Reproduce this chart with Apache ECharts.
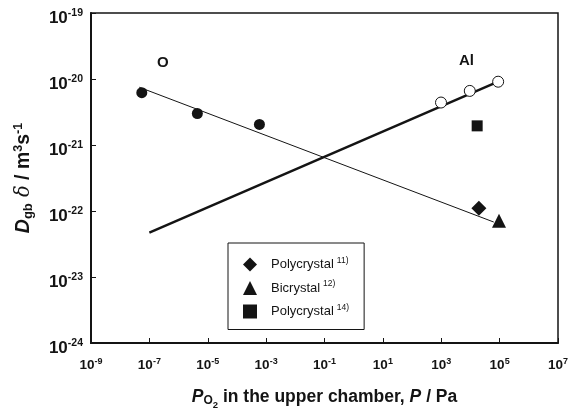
<!DOCTYPE html>
<html><head><meta charset="utf-8">
<script src="https://cdn.jsdelivr.net/npm/echarts@6/dist/echarts.min.js"></script>
<style>html,body{margin:0;padding:0;background:#fff}#c{width:570px;height:412px}</style>
</head><body><div id="c"></div>
<script>
// Tick exponents
const xTickExps = [-9, -7, -5, -3, -1, 1, 3, 5, 7];
const yTickExps = [-24, -23, -22, -21, -20, -19];
// O diffusion (filled circles)
const oP = [5.5e-8, 4.4e-6, 5.9e-4];
const oD = [6.2e-21, 3.0e-21, 2.05e-21];
// O fit line
const oFitP = [4.5e-8, 6.3e4];
const oFitD = [7.5e-21, 6.8e-23];
// Al diffusion (open circles)
const alP = [9.8e2, 9.5e3, 8.9e4];
const alD = [4.4e-21, 6.6e-21, 9.1e-21];
// Al fit line
const alFitP = [1.0e-7, 8.9e4];
const alFitD = [4.7e-23, 9.1e-21];
// Literature points
const polyP11 = [1.95e4]; const polyD11 = [1.1e-22];
const biP12 = [9.5e4];    const biD12 = [7.1e-23];
const polyP14 = [1.7e4];  const polyD14 = [1.95e-21];
const legendNames = ['Polycrystal', 'Bicrystal', 'Polycrystal'];
const legendRefs = ['11)', '12)', '14)'];

const X0 = xTickExps[0];
const lx = p => Math.log10(p) - X0;
const ly = d => Math.log10(d);
const pts = (P, D) => P.map((p, i) => [lx(p), ly(D[i])]);
const seriesNames = legendNames.map((n, i) => n + ' ' + legendRefs[i]);
const FONT = 'Liberation Sans, Arial, Helvetica, sans-serif';
const INK = '#141414';

const chart = echarts.init(document.getElementById('c'));
chart.setOption({
  animation: false,
  grid: { left: 91, top: 13, right: 12, bottom: 69, containLabel: false, outerBoundsMode: 'none', show: true, borderColor: INK, borderWidth: 1.5, backgroundColor: 'transparent' },
  xAxis: {
    type: 'value', min: 0, max: xTickExps[xTickExps.length - 1] - X0, interval: 2,
    axisLine: { show: true, lineStyle: { color: INK, width: 2 } },
    axisTick: { show: true, inside: true, length: 5, lineStyle: { color: INK, width: 1 } },
    splitLine: { show: false },
    axisLabel: {
      margin: 14, formatter: v => '{b|10}{s|' + (v + X0) + '}',
      rich: {
        b: { fontSize: 13.5, fontWeight: 'bold', color: INK, fontFamily: FONT },
        s: { fontSize: 9, fontWeight: 'bold', color: INK, fontFamily: FONT, padding: [0, 0, 8, 0] }
      }
    },
    name: '{p|P}{o|O}{two|2}{t| in the upper chamber, }{p|P}{t| / Pa}',
    nameLocation: 'middle', nameGap: 41,
    nameTextStyle: {
      rich: {
        p: { fontSize: 17.5, fontWeight: 'bold', fontStyle: 'italic', color: INK, fontFamily: FONT },
        o: { fontSize: 12, fontWeight: 'bold', color: INK, fontFamily: FONT, padding: [8, 0, 0, 0] },
        two: { fontSize: 9.5, fontWeight: 'bold', color: INK, fontFamily: FONT, padding: [16, 0, 0, 0] },
        t: { fontSize: 17.5, fontWeight: 'bold', color: INK, fontFamily: FONT }
      }
    }
  },
  yAxis: {
    type: 'value', min: yTickExps[0], max: yTickExps[yTickExps.length - 1], interval: 1,
    axisLine: { show: true, lineStyle: { color: INK, width: 2 } },
    axisTick: { show: true, inside: true, length: 5, lineStyle: { color: INK, width: 1 } },
    splitLine: { show: false },
    axisLabel: {
      margin: 8, padding: [10, 0, 0, 0], formatter: v => '{b|10}{s|' + v + '}',
      rich: {
        b: { fontSize: 17, fontWeight: 'bold', color: INK, fontFamily: FONT },
        s: { fontSize: 10.5, fontWeight: 'bold', color: INK, fontFamily: FONT, padding: [0, 0, 10, 0] }
      }
    },
    name: '{d|D}{sub|gb}{del| δ}{t| / m}{sup|3}{t|s}{sup|-1}',
    nameLocation: 'middle', nameGap: 56, nameRotate: 90,
    nameTextStyle: {
      rich: {
        d: { fontSize: 19.5, fontWeight: 'bold', fontStyle: 'italic', color: INK, fontFamily: FONT },
        sub: { fontSize: 13, fontWeight: 'bold', color: INK, fontFamily: FONT, padding: [9, 0, 0, 0] },
        del: { fontSize: 19.5, fontStyle: 'italic', color: INK, fontFamily: 'DejaVu Serif, serif' },
        t: { fontSize: 19.5, fontWeight: 'bold', color: INK, fontFamily: FONT },
        sup: { fontSize: 12.5, fontWeight: 'bold', color: INK, fontFamily: FONT, padding: [0, 0, 10, 0] }
      }
    }
  },
  legend: {
    data: seriesNames,
    orient: 'vertical', left: 228, top: 243,
    padding: [13, 15, 11, 15], itemGap: 8, itemWidth: 14, itemHeight: 14,
    backgroundColor: '#fff', borderColor: INK, borderWidth: 1, borderRadius: 0,
    formatter: name => {
      const i = seriesNames.indexOf(name);
      return '{a|' + legendNames[i] + '}{r|' + legendRefs[i] + '}';
    },
    textStyle: {
      rich: {
        a: { fontSize: 13, color: INK, fontFamily: FONT, padding: [0, 3, 0, 9] },
        r: { fontSize: 8.5, color: INK, fontFamily: FONT, padding: [0, 0, 8, 0] }
      }
    }
  },
  graphic: [
    { type: 'text', left: 157, top: 55, style: { text: 'O', font: 'bold 15px ' + FONT, fill: INK } },
    { type: 'text', left: 459, top: 53, style: { text: 'Al', font: 'bold 15px ' + FONT, fill: INK } }
  ],
  series: [
    { type: 'line', name: 'O fit', data: pts(oFitP, oFitD), symbol: 'none', lineStyle: { color: INK, width: 1 }, z: 2 },
    { type: 'line', name: 'Al fit', data: pts(alFitP, alFitD), symbol: 'none', lineStyle: { color: INK, width: 2.5 }, z: 2 },
    { type: 'scatter', name: 'O', data: pts(oP, oD), symbol: 'circle', symbolSize: 11, itemStyle: { color: INK, opacity: 1 }, z: 3 },
    { type: 'scatter', name: 'Al', data: pts(alP, alD), symbol: 'circle', symbolSize: 11, itemStyle: { color: '#fff', borderColor: INK, borderWidth: 1, opacity: 1 }, z: 3 },
    { type: 'scatter', name: seriesNames[0], data: pts(polyP11, polyD11), symbol: 'diamond', symbolSize: 15, itemStyle: { color: INK, opacity: 1 }, z: 3 },
    { type: 'scatter', name: seriesNames[1], data: pts(biP12, biD12), symbol: 'triangle', symbolSize: 14, itemStyle: { color: INK, opacity: 1 }, z: 3 },
    { type: 'scatter', name: seriesNames[2], data: pts(polyP14, polyD14), symbol: 'rect', symbolSize: 11, itemStyle: { color: INK, opacity: 1 }, z: 3 }
  ]
});
</script>
</body></html>
